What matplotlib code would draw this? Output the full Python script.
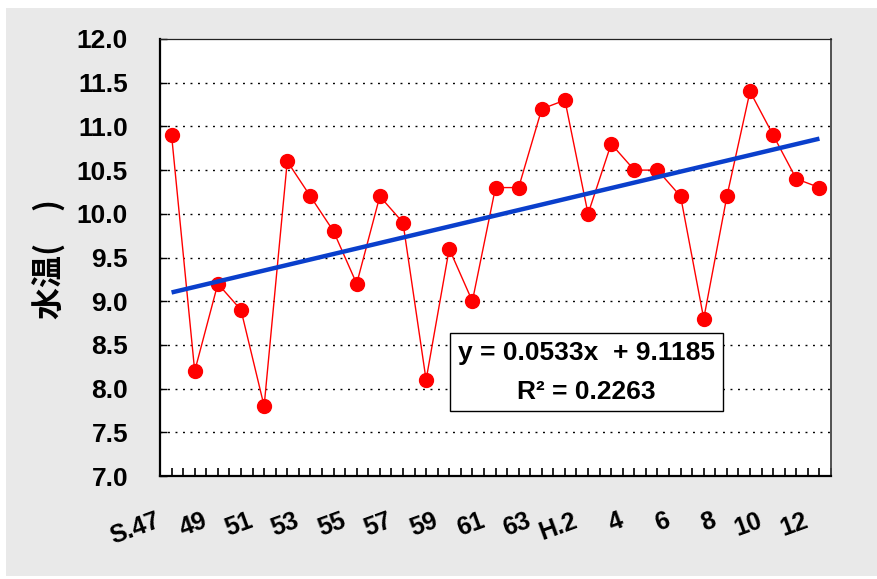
import matplotlib
matplotlib.use("Agg")
import matplotlib.pyplot as plt
from matplotlib.patches import Rectangle
import numpy as np

# ---- data ----
years = ["S.47", "48", "49", "50", "51", "52", "53", "54", "55", "56", "57", "58",
         "59", "60", "61", "62", "63", "H.1", "H.2", "3", "4", "5", "6", "7", "8",
         "9", "10", "11", "12"]
water_temp = [10.9, 8.2, 9.2, 8.9, 7.8, 10.6, 10.2, 9.8, 9.2, 10.2, 9.9, 8.1,
              9.6, 9.0, 10.3, 10.3, 11.2, 11.3, 10.0, 10.8, 10.5, 10.5, 10.2, 8.8,
              10.2, 11.4, 10.9, 10.4, 10.3]
tick_labels = ["S.47", "49", "51", "53", "55", "57", "59", "61", "63",
               "H.2", "4", "6", "8", "10", "12"]
trend_ends = [9.10, 10.86]          # drawn linear trend at first/last year
equation_text = "y = 0.0533x  + 9.1185\nR\u00b2 = 0.2263"
y_ticks = [7.0, 7.5, 8.0, 8.5, 9.0, 9.5, 10.0, 10.5, 11.0, 11.5, 12.0]

W, H = 877, 579
fig = plt.figure(figsize=(W / 100, H / 100), dpi=100)
fig.patch.set_facecolor("white")

# gray panel behind the chart
panel = Rectangle((6 / W, 3 / H), 871 / W, 568 / H,
                  transform=fig.transFigure, facecolor="#e9e9e9",
                  edgecolor="none", zorder=-10)
fig.add_artist(panel)

ax = fig.add_axes([160 / W, (H - 476) / H, 671 / W, 437 / H])
ax.set_zorder(1)
ax.set_facecolor("white")

x = np.arange(len(water_temp))
ax.set_xlim(-0.5, len(water_temp) - 0.5)
ax.set_ylim(7.0, 12.0)

# gridlines
for yv in y_ticks[1:-1]:
    ax.axhline(yv, color="black", lw=1.0, linestyle=(0, (1.4, 4.0)), zorder=1)

ax.plot(x, water_temp, color="#ff0000", lw=1.0, marker="o", markersize=10,
        markerfacecolor="#ff0000", markeredgecolor="#ff0000", zorder=3)
ax.plot([x[0], x[-1]], trend_ends, color="#0a3fcc", lw=3.2,
        solid_capstyle="butt", zorder=4)

# axes styling
ax.set_yticks(y_ticks)
ax.set_yticklabels([f"{v:.1f}" for v in y_ticks], fontsize=19,
                   fontfamily="Liberation Sans", fontweight="bold")
ax.tick_params(axis="y", direction="in", length=5, width=1, pad=23)
ax.set_xticks(np.arange(0, len(water_temp) - 0.5 + 0.01, 0.5))
ax.set_xticklabels([])
ax.tick_params(axis="x", direction="in", length=6, width=1.2)

for side in ["left", "bottom"]:
    ax.spines[side].set_linewidth(1.6)
    ax.spines[side].set_color("black")
ax.spines["top"].set_linewidth(0.9)
ax.spines["top"].set_color("#222222")
ax.spines["right"].set_linewidth(1.3)
ax.spines["right"].set_color("#444444")

# category labels, every other year, tilted
for k, lbl in enumerate(tick_labels):
    ax.annotate(lbl, xy=(2 * k, 0), xycoords=ax.get_xaxis_transform(),
                xytext=(-12, -44), textcoords="offset pixels",
                rotation=20, ha="right", va="center", rotation_mode="anchor",
                fontsize=18, fontfamily="Liberation Sans", fontweight="bold",
                annotation_clip=False)

# equation box
ax.text(0.636, 0.237, equation_text, transform=ax.transAxes,
        ha="center", va="center", multialignment="center", linespacing=1.75,
        fontsize=19, fontfamily="Liberation Sans", fontweight="bold",
        bbox=dict(boxstyle="square,pad=0.3", facecolor="white",
                  edgecolor="black", linewidth=1.0), zorder=5)

# y-axis label
fig.text(50 / W, 1 - 259 / H, "水温(\u3000)", rotation=90, ha="center",
         va="center", fontsize=23, fontweight="bold",
         family=["Noto Sans CJK JP", "DejaVu Sans"])

fig.savefig("out.png", dpi=100, facecolor=fig.get_facecolor())
